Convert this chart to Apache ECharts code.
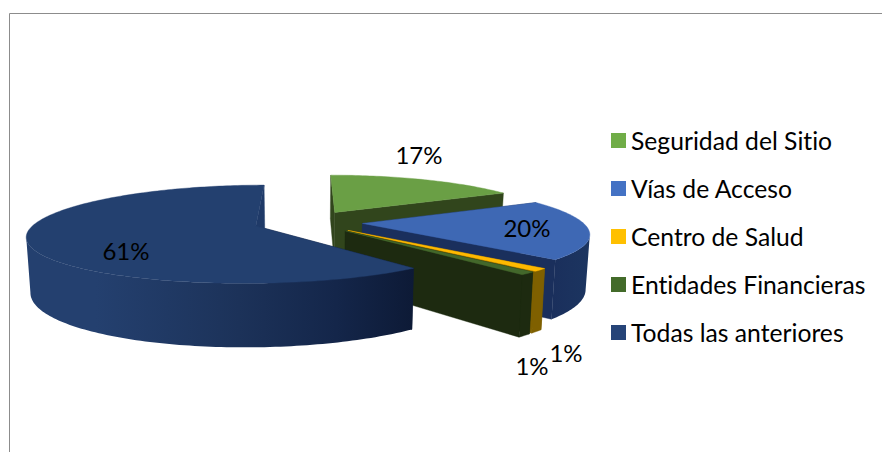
<!DOCTYPE html>
<html><head><meta charset="utf-8">
<style>html,body{margin:0;padding:0;background:#fff}#c{width:882px;height:452px}#c text{font-variant-ligatures:none}</style>
<script src="https://cdn.jsdelivr.net/npm/echarts@6/dist/echarts.min.js"></script>
</head><body><div id="c"></div>
<script>
const categories = ['Seguridad del Sitio','Vías de Acceso','Centro de Salud','Entidades Financieras','Todas las anteriores'];
const values = [17,20,1,1,61];
const percentLabels = ['17%','20%','1%','1%','61%'];
const legendColors = ['#70ad47','#4472c4','#ffc000','#436b2a','#264478'];
const topColors = ['#6a9f45','#3e68b4','#ffb900','#43682b','#23406f'];
const sideColors = ['#31451c','#1a2f5c','#7f6000','#1d2a10','#0f1c38'];
const outerColors = [null,['#1a2f5c','#1c3560'],['#7f6000','#7f6000'],['#1d2a10','#1d2a10'],['#24406f','#0d1a36']];
const labelPositions = [[419,154],[527,227],[532,365],[566,352],[126,250]];

const view = {vx:308, cy:222, R:220, Ry:46.4, k:0.166, kx:0.185, h:52.5, explode:0.248, bottom:0.985};
function project(x,y,drop){
  const s = 1/(1 - view.k*y), sx = 1/(1 - view.kx*y);
  const b = drop ? view.bottom : 1;
  return [view.vx + view.R*x*sx*b, view.cy + view.Ry*y*s + (drop ? view.h*s : 0)];
}
const total = values.reduce((a,b)=>a+b,0);
function sliceGeom(i){
  let acc = 0; for(let j=0;j<i;j++) acc += values[j];
  const a0 = acc/total*2*Math.PI, a1 = (acc+values[i])/total*2*Math.PI, mid=(a0+a1)/2;
  const ox = view.explode*Math.sin(mid), oy = -view.explode*Math.cos(mid);
  const pt = a => [ox+Math.sin(a), oy-Math.cos(a)];
  const n = Math.max(4, Math.ceil((a1-a0)/0.02));
  const arc = []; for(let t=0;t<=n;t++) arc.push(a0+(a1-a0)*t/n);
  return {ox,oy,pt,arc,a0,a1};
}
function wall(p,q){
  return [project(p[0],p[1],false),project(q[0],q[1],false),project(q[0],q[1],true),project(p[0],p[1],true)];
}
// The visible part of the rim runs between the two screen-space side extremes of the disc.
function frontArc(g){
  const sx = a => { const p=g.pt(a); return project(p[0],p[1],false)[0]; };
  const right = g.arc.filter(a=>a<Math.PI), left = g.arc.filter(a=>a>=Math.PI);
  let aR = null, aL = null;
  if(right.length) aR = right.reduce((m,a)=>sx(a)>sx(m)?a:m,right[0]);
  if(left.length) aL = left.reduce((m,a)=>sx(a)<sx(m)?a:m,left[0]);
  return g.arc.filter(a=>(a<Math.PI ? a>=aR : a<=aL));
}
function renderSlice(i){
  const g = sliceGeom(i), children=[];
  const center=[g.ox,g.oy];
  const poly=(points,fill)=>children.push({type:'polygon',shape:{points},style:{fill,stroke:typeof fill==='string'?fill:null,lineWidth:typeof fill==='string'?0.4:0}});
  poly(wall(center,g.pt(g.a0)),sideColors[i]);
  poly(wall(center,g.pt(g.a1)),i===4?'#1f3a68':sideColors[i]);
  const front = frontArc(g);
  if(front.length>1 && outerColors[i]){
    const top=front.map(a=>{const p=g.pt(a);return project(p[0],p[1],false);});
    const bot=front.map(a=>{const p=g.pt(a);return project(p[0],p[1],true);}).reverse();
    let fill=outerColors[i][0];
    if(i===4){
      fill=new echarts.graphic.LinearGradient(1,0,0,0,[
        {offset:0,color:'#0d1a36'},{offset:0.2,color:'#14264a'},{offset:0.45,color:'#1c3259'},{offset:0.82,color:'#24406f'},{offset:1,color:'#24406f'}]);
    } else if(i===1){
      fill=new echarts.graphic.LinearGradient(0,0,1,0,[{offset:0,color:outerColors[i][0]},{offset:1,color:outerColors[i][1]}]);
    }
    poly(top.concat(bot),fill);
  }
  const face=[project(g.ox,g.oy,false)].concat(g.arc.map(a=>{const p=g.pt(a);return project(p[0],p[1],false);}));
  poly(face,topColors[i]);
  children.push({type:'text',style:{text:percentLabels[i],x:labelPositions[i][0],y:labelPositions[i][1],align:'center',verticalAlign:'middle',fill:'#000',font:'24px Lato, "Open Sans", sans-serif'}});
  return {type:'group',children};
}
const chart = echarts.init(document.getElementById('c'),null,{renderer:'svg'});
chart.setOption({
  animation:false,
  backgroundColor:'#fff',
  legend:{
    orient:'vertical',left:606,top:123,icon:'rect',itemWidth:15,itemHeight:15,itemGap:23,
    selectedMode:false,
    textStyle:{fontFamily:'Lato, "Open Sans", sans-serif',fontSize:24.7,color:'#000'},
    data:categories.map((name,i)=>({name,itemStyle:{color:legendColors[i]}}))
  },
  graphic:[
    {type:'polyline',silent:true,shape:{points:[[9.5,452],[9.5,13.5],[882,13.5]]},style:{stroke:'#8c8c8c',lineWidth:1,fill:null}}
  ],
  series:categories.map((name,i)=>({
    type:'custom',name,coordinateSystem:'none',silent:true,
    itemStyle:{color:legendColors[i]},
    data:[[values[i]]],
    renderItem:()=>renderSlice(i)
  }))
});
</script></body></html>
